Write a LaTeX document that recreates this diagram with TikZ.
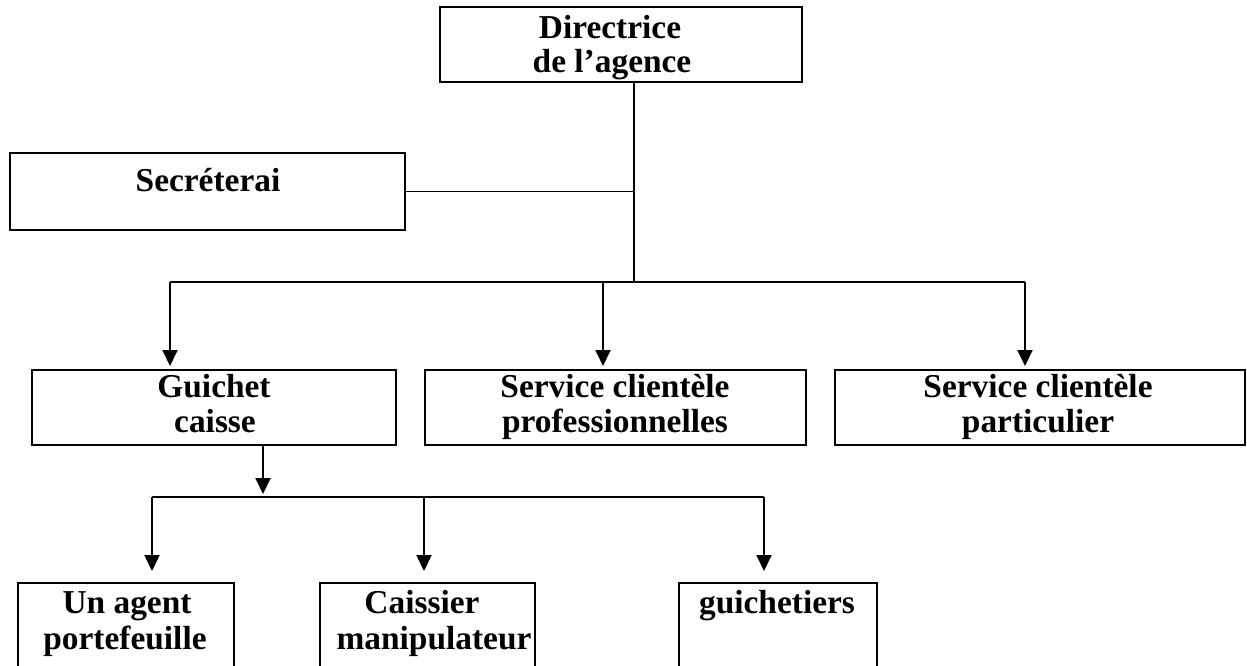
\documentclass[tikz,border=0pt]{standalone}
\usepackage{fontspec}
\setmainfont{Liberation Serif}
\usetikzlibrary{arrows.meta}
\tikzset{
  box/.style={draw=black, line width=2.8pt, rectangle, inner sep=0pt, outer sep=0pt},
  lbl/.style={anchor=base, inner sep=0pt, font=\fontsize{33.4}{35}\selectfont\bfseries},
  conn/.style={draw=black, line width=1.9pt},
  arr/.style={conn, -{Triangle[width=15pt,length=16pt]}},
}
\begin{document}
\begin{tikzpicture}[x=1pt,y=-1pt]
\clip (0,0) rectangle (1247,665);
\fill[white] (0,0) rectangle (1247,665);
% boxes
\node[box, minimum width=362pt, minimum height=75pt] (dir) at (621,44.5) {};
\node[box, minimum width=395pt, minimum height=77pt] (sec) at (207.5,191.5) {};
\node[box, minimum width=364pt, minimum height=75pt] (gui) at (214,407.5) {};
\node[box, minimum width=381pt, minimum height=75pt] (pro) at (615.5,407.5) {};
\node[box, minimum width=410pt, minimum height=75pt] (par) at (1040,407.5) {};
\node[box, minimum width=216pt, minimum height=107pt] (age) at (126,636.5) {};
\node[box, minimum width=215pt, minimum height=107pt] (cai) at (427.5,636.5) {};
\node[box, minimum width=198pt, minimum height=107pt] (gch) at (778,636.5) {};
% texts
\node[lbl] (t1) at (610,38) {Directrice};
\node[lbl] (t2) at (612,72) {de l’agence};
\node[lbl] (t3) at (208,191) {Secréterai};
\node[lbl] (t4) at (214,397) {Guichet};
\node[lbl] (t5) at (215,432) {caisse};
\node[lbl] (t6) at (615,397) {Service clientèle};
\node[lbl] (t7) at (615,432) {professionnelles};
\node[lbl] (t8) at (1038,397) {Service clientèle};
\node[lbl] (t9) at (1038,432) {particulier};
\node[lbl] (t10) at (127,613) {Un agent};
\node[lbl] (t11) at (125,649) {portefeuille};
\node[lbl] (t12) at (422,613) {Caissier};
\node[lbl] (t13) at (434,649) {manipulateur};
\node[lbl] (t14) at (777,613) {guichetiers};
% junction coordinates
\coordinate (trunk) at (634,282);
\coordinate (barL) at (170,282);
\coordinate (barM) at (603,282);
\coordinate (barR) at (1025,282);
\coordinate (cz) at (263,497);
\coordinate (b2L) at (152,497);
\coordinate (b2M) at (424,497);
\coordinate (b2R) at (764,497);
% connectors
\draw[conn] (dir.south -| trunk) -- (trunk);
\draw[conn] (sec.east) -- (sec.east -| trunk);
\draw[conn] (barL) -- (barR);
\draw[arr, shorten >=4pt] (barL) -- (barL |- gui.north);
\draw[arr, shorten >=4pt] (barM) -- (barM |- pro.north);
\draw[arr, shorten >=4pt] (barR) -- (barR |- par.north);
\draw[arr, shorten >=3pt] (gui.south -| cz) -- (cz);
\draw[conn] (b2L) -- (b2R);
\draw[arr, shorten >=12pt] (b2L) -- (b2L |- age.north);
\draw[arr, shorten >=12pt] (b2M) -- (b2M |- cai.north);
\draw[arr, shorten >=12pt] (b2R) -- (b2R |- gch.north);
\end{tikzpicture}
\end{document}
